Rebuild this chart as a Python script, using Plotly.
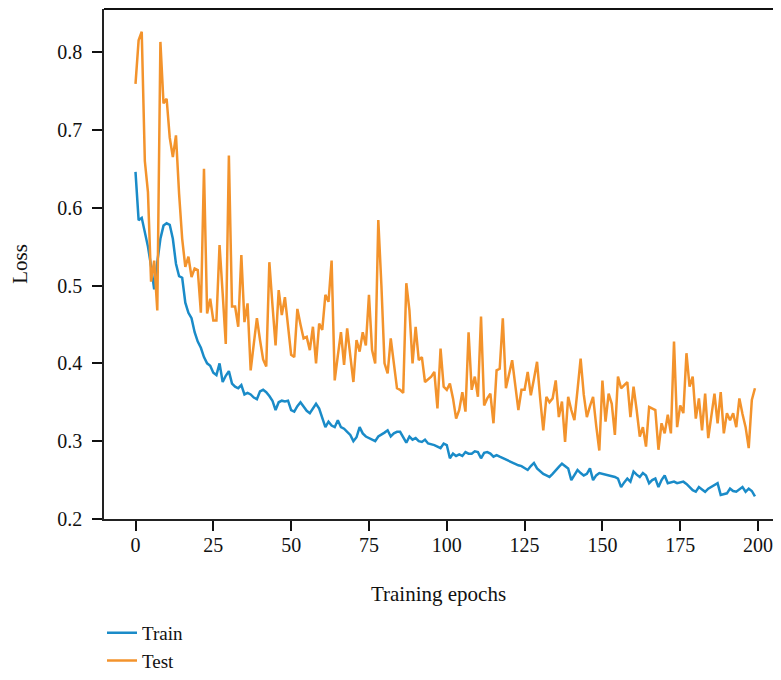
import plotly.graph_objects as go

train = [
    0.646, 0.584, 0.587, 0.568, 0.550, 0.525, 0.495, 0.530, 0.560, 0.577,
    0.580, 0.578, 0.560, 0.528, 0.512, 0.510, 0.478, 0.465, 0.458, 0.440,
    0.428, 0.420, 0.408, 0.400, 0.397, 0.388, 0.385, 0.400, 0.376, 0.384,
    0.390, 0.374, 0.370, 0.368, 0.372, 0.360, 0.362, 0.360, 0.356, 0.354,
    0.364, 0.366, 0.363, 0.358, 0.352, 0.340, 0.350, 0.352, 0.351, 0.352,
    0.340, 0.338, 0.345, 0.350, 0.344, 0.339, 0.336, 0.342, 0.348, 0.342,
    0.330, 0.318, 0.325, 0.320, 0.318, 0.327, 0.318, 0.316, 0.312, 0.308,
    0.300, 0.305, 0.318, 0.310, 0.306, 0.304, 0.302, 0.300, 0.306, 0.308,
    0.311, 0.314, 0.306, 0.310, 0.312, 0.312, 0.304, 0.298, 0.306, 0.302,
    0.304, 0.300, 0.299, 0.302, 0.297, 0.296, 0.295, 0.293, 0.291, 0.297,
    0.295, 0.278, 0.284, 0.281, 0.283, 0.281, 0.286, 0.284, 0.284, 0.287,
    0.286, 0.278, 0.285, 0.286, 0.284, 0.280, 0.282, 0.280, 0.278, 0.276,
    0.274, 0.272, 0.270, 0.269, 0.268, 0.265, 0.263, 0.268, 0.272, 0.265,
    0.261, 0.258, 0.256, 0.254, 0.258, 0.263, 0.267, 0.271, 0.268, 0.265,
    0.250, 0.256, 0.263, 0.259, 0.256, 0.258, 0.265, 0.250, 0.256, 0.259,
    0.258, 0.257, 0.256, 0.255, 0.254, 0.252, 0.241, 0.247, 0.252, 0.248,
    0.261, 0.257, 0.254, 0.259, 0.256, 0.246, 0.250, 0.252, 0.241, 0.250,
    0.256, 0.246, 0.247, 0.248, 0.246, 0.247, 0.248, 0.245, 0.241, 0.237,
    0.235, 0.241, 0.238, 0.235, 0.239, 0.241, 0.244, 0.246, 0.231, 0.232,
    0.233, 0.239, 0.236, 0.235, 0.238, 0.241, 0.235, 0.239, 0.236, 0.229,
]

test = [
    0.759, 0.815, 0.826, 0.660, 0.620, 0.505, 0.532, 0.468, 0.813, 0.734,
    0.740, 0.690, 0.665, 0.693, 0.618, 0.560, 0.524, 0.537, 0.511, 0.522,
    0.520, 0.465, 0.650, 0.464, 0.483, 0.455, 0.455, 0.552, 0.490, 0.425,
    0.667, 0.473, 0.473, 0.447, 0.539, 0.453, 0.477, 0.391, 0.425, 0.458,
    0.430, 0.405, 0.396, 0.530, 0.475, 0.423, 0.494, 0.462, 0.485, 0.445,
    0.411, 0.408, 0.470, 0.450, 0.432, 0.434, 0.417, 0.447, 0.400, 0.451,
    0.443, 0.488, 0.479, 0.532, 0.378, 0.410, 0.440, 0.398, 0.445, 0.410,
    0.376, 0.430, 0.415, 0.440, 0.423, 0.488, 0.417, 0.400, 0.584, 0.500,
    0.400, 0.387, 0.432, 0.400, 0.368, 0.366, 0.362, 0.503, 0.468, 0.400,
    0.447, 0.404, 0.408, 0.376, 0.380, 0.383, 0.389, 0.342, 0.419, 0.370,
    0.366, 0.374, 0.355, 0.329, 0.340, 0.363, 0.338, 0.440, 0.366, 0.383,
    0.357, 0.460, 0.346, 0.355, 0.361, 0.323, 0.391, 0.393, 0.458, 0.368,
    0.386, 0.404, 0.372, 0.340, 0.366, 0.366, 0.389, 0.359, 0.380, 0.402,
    0.355, 0.314, 0.357, 0.350, 0.355, 0.378, 0.331, 0.351, 0.299, 0.357,
    0.340, 0.327, 0.366, 0.406, 0.360, 0.331, 0.345, 0.357, 0.320, 0.288,
    0.378, 0.325, 0.361, 0.348, 0.308, 0.383, 0.368, 0.372, 0.376, 0.331,
    0.370, 0.340, 0.306, 0.318, 0.293, 0.344, 0.342, 0.340, 0.289, 0.323,
    0.310, 0.334, 0.310, 0.428, 0.318, 0.346, 0.336, 0.413, 0.370, 0.383,
    0.329, 0.355, 0.314, 0.361, 0.304, 0.330, 0.361, 0.323, 0.363, 0.310,
    0.336, 0.327, 0.336, 0.318, 0.355, 0.335, 0.318, 0.291, 0.353, 0.368,
]

epochs = list(range(len(train)))
x_ticks = [0, 25, 50, 75, 100, 125, 150, 175, 200]
y_ticks = [0.2, 0.3, 0.4, 0.5, 0.6, 0.7, 0.8]

FONT = "Liberation Serif"

fig = go.Figure()
fig.add_trace(go.Scatter(x=epochs, y=train, mode="lines", name="Train",
                         line=dict(color="#1a8bc8", width=2.5)))
fig.add_trace(go.Scatter(x=list(range(len(test))), y=test, mode="lines", name="Test",
                         line=dict(color="#f3932c", width=2.5)))

fig.update_layout(
    width=765, height=664,
    margin=dict(l=96, r=0, t=1, b=153, autoexpand=False),
    paper_bgcolor="white", plot_bgcolor="white",
    font=dict(family=FONT, size=20, color="#111"),
    showlegend=True,
    legend=dict(x=-0.003, y=-0.186, xanchor="left", yanchor="top",
                orientation="v", font=dict(family=FONT, size=19),
                bgcolor="rgba(0,0,0,0)"),
    xaxis=dict(range=[-10.12, 204.8], tickvals=x_ticks, showgrid=False,
               zeroline=False, showline=True, linecolor="#222", linewidth=1.5,
               ticks="outside", ticklen=10, tickwidth=2, tickcolor="#111",
               ticklabelstandoff=-3, ticklabeloverflow="allow",
               tickfont=dict(family=FONT, size=20),
               title=dict(text="Training epochs", font=dict(family=FONT, size=21),
                          standoff=32)),
    yaxis=dict(range=[0.2, 0.8553], tickvals=y_ticks, tickformat=".1f",
               showgrid=False, zeroline=False, showline=True, linecolor="#222",
               linewidth=1.5, ticks="outside", ticklen=10, tickwidth=2,
               tickcolor="#111", ticklabelstandoff=6,
               tickfont=dict(family=FONT, size=20),
               title=dict(text="Loss", font=dict(family=FONT, size=21),
                          standoff=24)),
    shapes=[dict(type="line", xref="paper", yref="paper", x0=0, x1=1, y0=1, y1=1,
                 line=dict(color="#111", width=2))],
)

fig.write_html("out.html")
